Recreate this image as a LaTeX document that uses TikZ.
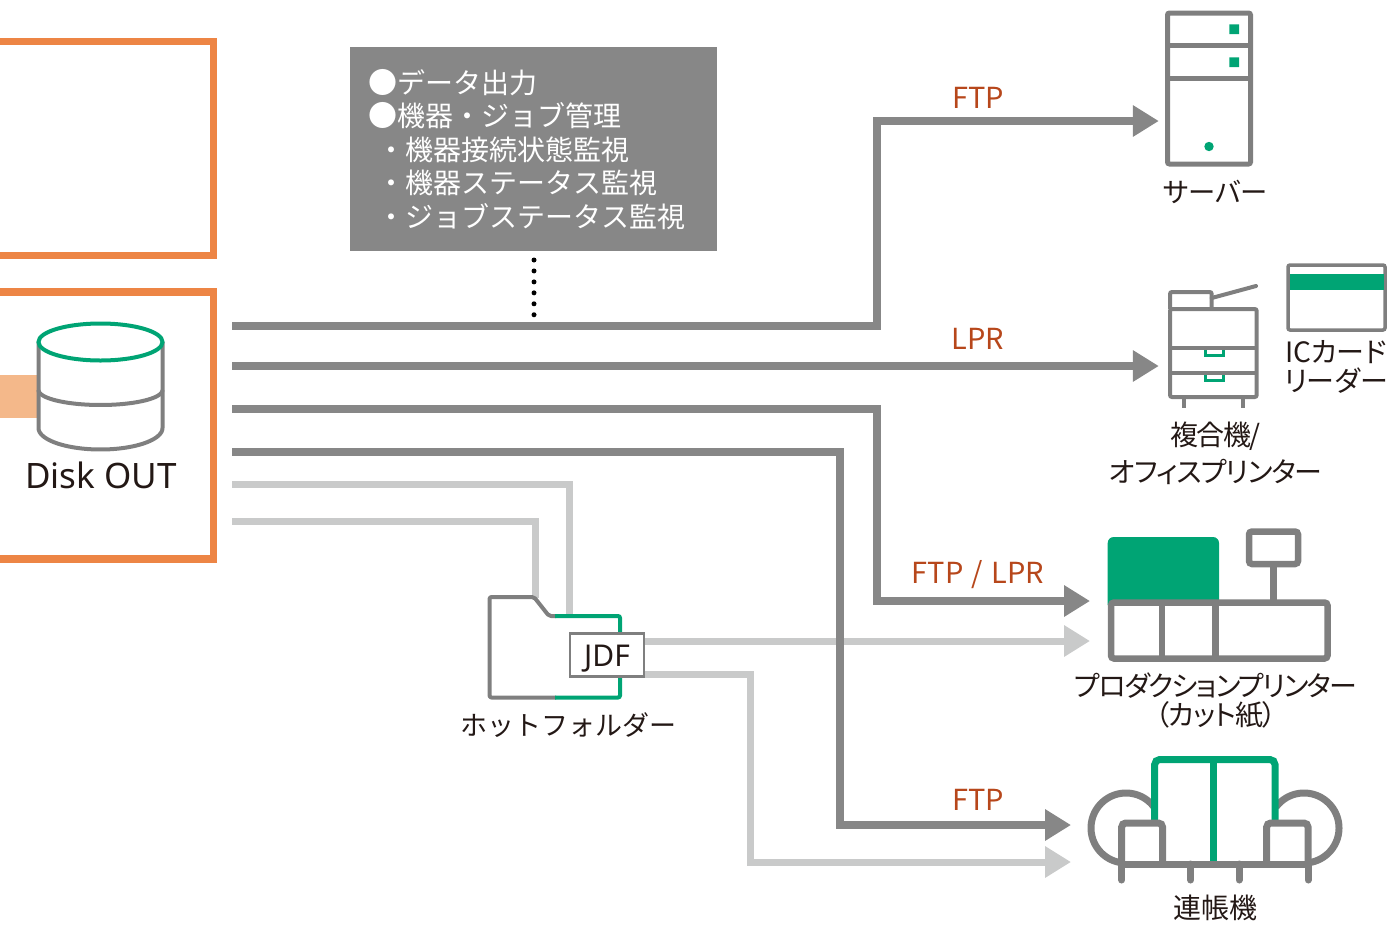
\documentclass[tikz,border=0pt]{standalone}
\usepackage{fontspec}
\usetikzlibrary{arrows.meta,calc}
\setmainfont{Noto Sans}
\newfontfamily\jp{Noto Sans CJK JP}
\newfontfamily\jpp[RawFeature=+palt]{Noto Sans CJK JP}
\newfontfamily\jpa[RawFeature=+palt,LetterSpace=-3.5]{Noto Sans CJK JP}
\newfontfamily\jpb[RawFeature=+palt,LetterSpace=-5.5]{Noto Sans CJK JP}
\newcommand{\bigdot}{\makebox[28pt][c]{\fontsize{29}{29}\selectfont ●}}
\definecolor{orangeb}{HTML}{ED8545}
\definecolor{peach}{HTML}{F4B88A}
\definecolor{lineg}{HTML}{878787}
\definecolor{lightg}{HTML}{C9CACA}
\definecolor{iconink}{HTML}{7F7F7F}
\definecolor{greenb}{HTML}{00A474}
\definecolor{rust}{HTML}{B7471B}
\definecolor{inkb}{HTML}{231815}
\tikzset{
  x=1pt,y=-1pt,
  dark/.style={draw=lineg,line width=7.5pt,-{Triangle[length=26pt,width=30pt]}},
  light/.style={draw=lightg,line width=7pt,-{Triangle[length=26pt,width=30pt]}},
  lightplain/.style={draw=lightg,line width=7pt},
  proto/.style={text=rust,font=\jp\fontsize{29}{29}\selectfont,inner sep=0pt},
  lab/.style={text=inkb,font=\jpp\fontsize{28}{28}\selectfont,inner sep=0pt},
  laba/.style={lab,font=\jpa\fontsize{28}{28}\selectfont},
  labb/.style={lab,font=\jpb\fontsize{28}{28}\selectfont},
  icon/.style={draw=iconink,line width=4pt,rounded corners=2pt},
  gicon/.style={draw=greenb,line width=4pt,rounded corners=2pt},
  orangebox/.style={draw=orangeb,line width=7.5pt},
}
\begin{document}
\begin{tikzpicture}
\useasboundingbox (0,0) rectangle (1395,924);
% orange frames
\draw[orangebox] (-6,41.5) -- (213.5,41.5) -- (213.5,255.5) -- (-6,255.5);
\draw[orangebox] (-6,292) -- (213.5,292) -- (213.5,559) -- (-6,559);
\fill[peach] (0,375) rectangle (37,418);
% disk
\draw[iconink,line width=4pt] (38.5,342) -- (38.5,428)
  plot[domain=180:0,samples=50] ({100.5+62*cos(\x)},{428+21.5*sin(\x)}) -- (162.5,342);
\draw[iconink,line width=4pt] plot[domain=180:0,samples=50] ({100.5+62*cos(\x)},{390+15*sin(\x)});
\draw[greenb,line width=4pt,fill=white] (100.5,342) ellipse [x radius=62pt,y radius=18.5pt];
\node[text=inkb,inner sep=0pt,font=\fontsize{35}{35}\selectfont] (disk) at (101,475) {Disk OUT};
% info box
\node[fill=lineg,minimum width=367pt,minimum height=204pt,inner sep=0pt] (info) at (533.5,149) {};
\node[text=white,anchor=north west,inner sep=0pt,align=left,font=\jp\fontsize{28}{33.5}\selectfont] (infotext) at (369,69)
{\bigdot データ出力\\\bigdot 機器・ジョブ管理\\\hspace*{8pt}・機器接続状態監視\\\hspace*{8pt}・機器ステータス監視\\\hspace*{8pt}・ジョブステータス監視};
\coordinate (dotA) at (534,260);
\coordinate (dotB) at (534,316);
\draw[black,line width=5pt,line cap=round,dash pattern=on 0pt off 10.95pt] (dotA) -- (dotB);
% connector endpoints
\coordinate (s1) at (232,326);
\coordinate (s2) at (232,366);
\coordinate (s3) at (232,409);
\coordinate (s4) at (232,452);
\coordinate (s5) at (232,484);
\coordinate (s6) at (232,521);
\coordinate (b1) at (877,121);
\coordinate (t1) at (1158.8,121);
\coordinate (t2) at (1158.8,366);
\coordinate (b3) at (877,601);
\coordinate (t3) at (1090,601);
\coordinate (b4) at (840,825);
\coordinate (t4) at (1071,825);
\coordinate (e5) at (569,616);
\coordinate (e6) at (535,598);
\coordinate (j1) at (644,641);
\coordinate (j2) at (644,674);
\coordinate (t7) at (1090,641);
\coordinate (b8) at (750,862);
\coordinate (t8) at (1071,862);
% light connectors
\draw[lightplain] (s5) -| (e5);
\draw[lightplain] (s6) -| (e6);
\draw[light] (j1) -- (t7);
\draw[light] (j2) -| (b8) -- (t8);
% dark connectors
\draw[dark] (s1) -| (b1) -- (t1);
\draw[dark] (s2) -- (t2);
\draw[dark] (s3) -| (b3) -- (t3);
\draw[dark] (s4) -| (b4) -- (t4);
% protocol labels
\node[proto] (pftp) at (978,98) {FTP};
\node[proto] (plpr) at (978,339) {LPR};
\node[proto] (pboth) at (978,575) {FTP\hspace{8.5pt}/\hspace{8.5pt}LPR};
\node[proto] (pftpb) at (978,800) {FTP};
% hot folder
\draw[icon,line join=round] (556,697.5) -- (489.5,697.5) -- (489.5,597) -- (534,597) -- (549,616) -- (556,616);
\draw[gicon] (555,616) -- (620,616) -- (620,697.5) -- (555,697.5);
\node[draw=iconink,fill=white,line width=2.5pt,minimum width=74pt,minimum height=43pt,inner sep=0pt] (jdf) at (607,655) {};
\node[anchor=base,inner sep=0pt,text=inkb,font=\fontsize{30}{30}\selectfont] (jdftext) at (607,666) {JDF};
\node[lab,font=\jp\fontsize{27}{28}\selectfont] (hot) at (568,725) {ホットフォルダー};
% server
\draw[draw=iconink,line width=5pt,rounded corners=2pt] (1167.5,13) rectangle (1250.5,164);
\draw[iconink,line width=5pt] (1167.5,45) -- (1250.5,45) (1167.5,78) -- (1250.5,78);
\fill[greenb] (1229.3,24.3) rectangle (1239,34) (1229.3,57.3) rectangle (1239,67);
\fill[greenb] (1209,146.5) circle [radius=4.7pt];
\node[lab,font=\jpp\fontsize{27.3}{28}\selectfont] (server) at (1215.5,192) {サーバー};
% MFP
\draw[gicon,line width=3pt,rounded corners=0pt] (1205,348) -- (1205,355.5) -- (1223.5,355.5) -- (1223.5,348);
\draw[gicon,line width=3pt,rounded corners=0pt] (1205,373) -- (1205,380) -- (1223.5,380) -- (1223.5,373);
\draw[icon] (1170,309) rectangle (1256.7,397);
\draw[iconink,line width=4pt] (1170,348) -- (1256.7,348) (1170,372.7) -- (1256.7,372.7);
\draw[icon] (1170,309) -- (1170,292) -- (1211.7,292) -- (1211.7,309);
\draw[iconink,line width=4pt,line cap=round] (1211.7,298) -- (1256,286);
\draw[iconink,line width=4pt] (1184,397) -- (1184,408) (1242.7,397) -- (1242.7,408);
\node[labb] (mfpa) at (1215.5,436) {複合機/};
\node[laba] (mfpb) at (1216,472) {オフィスプリンター};
% IC card
\draw[draw=iconink,line width=3.5pt,rounded corners=2pt] (1288,265) rectangle (1385,330);
\fill[greenb] (1289.5,274) rectangle (1383.5,289.5);
\node[lab] (ica) at (1336,352.5) {ICカード};
\node[lab] (icb) at (1336,381) {リーダー};
% production printer
\fill[greenb,rounded corners=6pt] (1107.7,605) -- (1107.7,537) -- (1219,537) -- (1219,605);
\draw[iconink,line width=6.5pt,rounded corners=3pt] (1111,602.5) rectangle (1327.5,658.5);
\draw[iconink,line width=6.5pt] (1162,602.5) -- (1162,658.5) (1215.7,602.5) -- (1215.7,658.5);
\draw[iconink,line width=6.5pt,rounded corners=3pt] (1249,531.5) rectangle (1298,564);
\draw[iconink,line width=6.5pt] (1273.7,564) -- (1273.7,602.5);
\node[labb] (proa) at (1216,686) {プロダクションプリンター};
\node[laba] (prob) at (1215.7,715) {（カット紙）};
% continuous form
\draw[iconink,line width=7pt] plot[domain=-37:-262,samples=70] ({1126+35*cos(\x)},{828+35*sin(\x)});
\draw[iconink,line width=7pt] plot[domain=217:442,samples=70] ({1304+35*cos(\x)},{828+35*sin(\x)});
\draw[draw=greenb,line width=7pt,rounded corners=5pt] (1154.7,825) -- (1154.7,759.5) -- (1275,759.5) -- (1275,825);
\draw[greenb,line width=7pt] (1213.3,759.5) -- (1213.3,862);
\draw[draw=iconink,line width=7pt,rounded corners=4pt] (1121.7,864) -- (1121.7,823) -- (1162.5,823) -- (1162.5,864);
\draw[draw=iconink,line width=7pt,rounded corners=4pt] (1266.7,864) -- (1266.7,823) -- (1308,823) -- (1308,864);
\draw[iconink,line width=7pt] (1118.2,864) -- (1311.5,864);
\draw[iconink,line width=7pt,line cap=round] (1121.7,864) -- (1121.7,880) (1190.7,864) -- (1190.7,880) (1239,864) -- (1239,880) (1308,864) -- (1308,880);
\node[lab] (renc) at (1215,908) {連帳機};
\end{tikzpicture}
\end{document}
